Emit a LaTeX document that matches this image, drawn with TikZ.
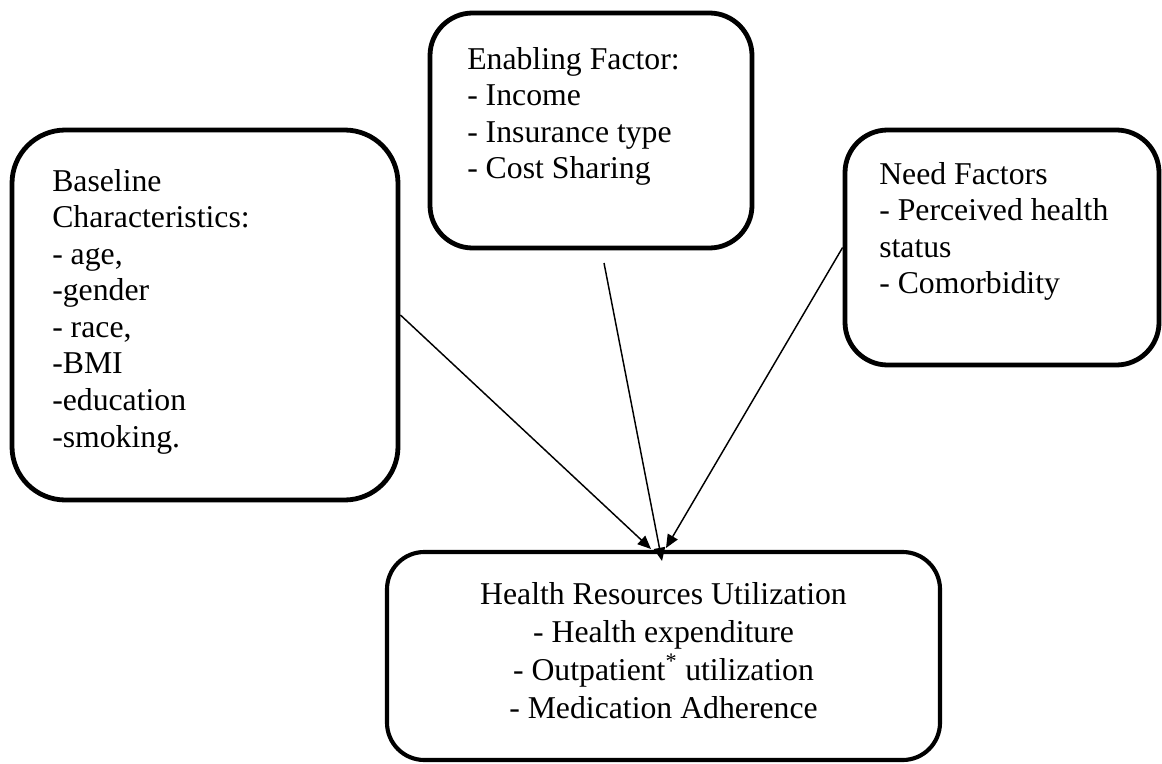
\documentclass[tikz,border=0pt]{standalone}
\usepackage{fontspec}
\setmainfont{Liberation Serif}
\usetikzlibrary{arrows.meta}

\begin{document}
\begin{tikzpicture}[x=0.75pt,y=0.75pt,yscale=-1,xscale=1,
  factorbox/.style={draw, line width=3.6pt, inner sep=0pt},
  boxtext/.style={inner sep=0pt, align=left, font=\fontsize{23.8pt}{27.4pt}\selectfont},
  linkarrow/.style={line width=1.1pt, -{Triangle[length=10pt,width=8.5pt]}}]
\useasboundingbox (0,0) rectangle (1162,763);

%Boxes
\node [factorbox, rounded corners=40pt, minimum width=289.5pt, minimum height=277.5pt] (baseline) at (205,315) {};
\node [factorbox, rounded corners=32pt, minimum width=241.5pt, minimum height=176.25pt] (enabling) at (591,130.5) {};
\node [factorbox, rounded corners=32pt, minimum width=235.5pt, minimum height=176.25pt] (need) at (1002,247.5) {};
\node [factorbox, line width=3.1pt, rounded corners=28pt, minimum width=414.75pt, minimum height=156pt] (hru) at (663.5,656) {};

% Text Node
\node [boxtext, anchor=north west] (baselinetext) at (52,169) {Baseline\\Characteristics:\\- age,\\-gender\\- race,\\-BMI\\-education\\-smoking.};
% Text Node
\node [boxtext, anchor=north west] (enablingtext) at (467,47) {Enabling Factor:\\- Income\\- Insurance type\\- Cost Sharing};
% Text Node
\node [boxtext, anchor=north west] (needtext) at (879,162) {Need Factors\\- Perceived health\\status\\- Comorbidity};
% Text Node
\node [boxtext, align=center, anchor=north, font=\fontsize{23.8pt}{28.5pt}\selectfont] (hrutext) at (663.5,582) {Health Resources Utilization\\- Health expenditure\\- Outpatient\textsuperscript{*} utilization\\- Medication Adherence};

%Arrows
\coordinate (tipa) at (651,549);
\coordinate (tipb) at (662,561);
\coordinate (tipc) at (666,548);
\coordinate (enablingfoot) at (604,263);
\draw [linkarrow] (baseline.east) -- (tipa);
\draw [linkarrow] (enablingfoot) -- (tipb);
\draw [linkarrow] (need.west) -- (tipc);

\end{tikzpicture}
\end{document}
